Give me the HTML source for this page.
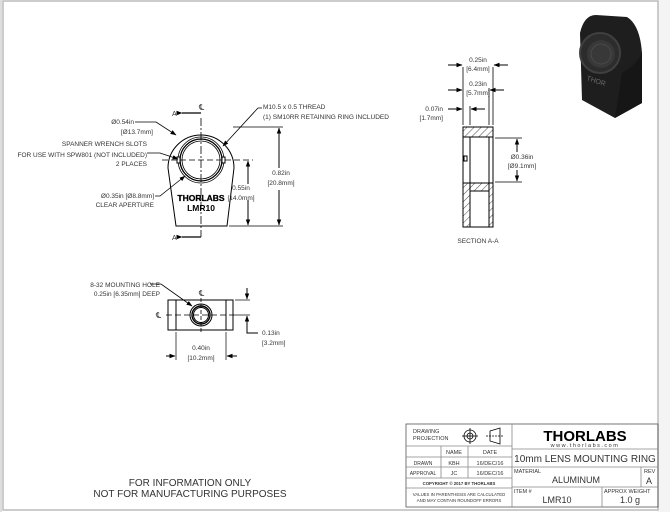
<!DOCTYPE html>
<html><head><style>
html,body{margin:0;padding:0;background:#fff;}
svg{display:block;}
text{font-family:"Liberation Sans",sans-serif;fill:#333;}
</style></head><body>
<svg width="670" height="512" viewBox="0 0 670 512" xmlns="http://www.w3.org/2000/svg">
<defs>
<marker id="ar" markerWidth="6" markerHeight="6" refX="5.5" refY="3" orient="auto" markerUnits="userSpaceOnUse"><path d="M0,0.8 L6,3 L0,5.2z" fill="#000"/></marker>
<pattern id="h" width="5" height="5" patternUnits="userSpaceOnUse" patternTransform="rotate(45)"><line x1="0" y1="0" x2="0" y2="5" stroke="#000" stroke-width="0.7"/></pattern>
</defs>
<rect x="0" y="0" width="670" height="512" fill="#fff"/>
<rect x="658" y="0" width="12" height="512" fill="#f4f4f4"/>
<rect x="3" y="1" width="655" height="509" fill="none" stroke="#bbb" stroke-width="1.5"/>
<line x1="1" y1="0" x2="1" y2="512" stroke="#ddd" stroke-width="2"/>

<!-- photo -->
<g>
<path d="M580,33 Q584,15 596,15 L627,17 Q640,25 642,53 L642,103 L615,118 L582,100 Z" fill="#1e1e1e"/>
<path d="M622,73 Q636,65 642,53 L642,103 L615,118 Z" fill="#161616"/>
<circle cx="600" cy="53" r="20" fill="#2c2c2c" stroke="#404040" stroke-width="2"/>
<circle cx="601" cy="54" r="14" fill="#383838"/>
<circle cx="601" cy="54" r="10" fill="none" stroke="#4a4a4a" stroke-width="1"/>
<text x="586" y="80" font-size="7" transform="rotate(18 586 80)" style="fill:#6a6a6a">THOR</text>
</g>

<!-- front view -->
<g stroke="#000" fill="none" stroke-width="1">
<path d="M168,168 A33,33 0 1,1 234,168 L227,226 L176,226 Z" fill="#fff"/>
<circle cx="201" cy="160" r="23" stroke-width="0.8"/>
<circle cx="201" cy="160" r="21" stroke-width="1.3"/>
<circle cx="201" cy="160" r="19" stroke-width="0.8"/>
<rect x="177" y="157" width="3" height="6" fill="#fff"/>
<rect x="222" y="157" width="3" height="6" fill="#fff"/>
<line x1="162" y1="160" x2="253" y2="160" stroke-dasharray="6,3" stroke-width="0.8"/>
<line x1="201" y1="118" x2="201" y2="237" stroke-dasharray="8,2,2,2" stroke-width="0.8"/>
<line x1="182" y1="113" x2="201" y2="113" marker-start="url(#ar)" stroke-width="1.2"/>
<line x1="182" y1="237" x2="201" y2="237" marker-start="url(#ar)" stroke-width="1.2"/>
<line x1="233" y1="127" x2="283" y2="127" stroke-width="0.7"/>
<line x1="229" y1="226" x2="283" y2="226" stroke-width="0.7"/>
<line x1="279" y1="140" x2="279" y2="128" marker-end="url(#ar)"/>
<line x1="279" y1="190" x2="279" y2="225" marker-end="url(#ar)"/>
<line x1="279" y1="168" x2="279" y2="140"/>
<line x1="248" y1="184" x2="248" y2="161" marker-end="url(#ar)"/>
<line x1="248" y1="200" x2="248" y2="225" marker-end="url(#ar)"/>
<polyline points="262,108 258,108 223,146" marker-end="url(#ar)" stroke-width="0.8"/>
<polyline points="135,122 156,122 176,135" marker-end="url(#ar)" stroke-width="0.8"/>
<polyline points="147,153 160,153 178,159" marker-end="url(#ar)" stroke-width="0.8"/>
<polyline points="155,196 160,196 185,176" marker-end="url(#ar)" stroke-width="0.8"/>
</g>
<g font-size="6.5">
<text x="199" y="110" font-size="8">℄</text>
<text x="172" y="116" font-size="7">A</text>
<text x="172" y="240" font-size="7">A</text>
<text x="263" y="109">M10.5 x 0.5 THREAD</text>
<text x="263" y="119">(1) SM10RR RETAINING RING INCLUDED</text>
<text x="134" y="124" text-anchor="end">Ø0.54in</text>
<text x="153" y="134" text-anchor="end">[Ø13.7mm]</text>
<text x="147" y="146" text-anchor="end">SPANNER WRENCH SLOTS</text>
<text x="147" y="157" text-anchor="end">FOR USE WITH SPW801 (NOT INCLUDED)</text>
<text x="147" y="166" text-anchor="end">2 PLACES</text>
<text x="154" y="198" text-anchor="end">Ø0.35in [Ø8.8mm]</text>
<text x="154" y="207" text-anchor="end">CLEAR APERTURE</text>
<text x="241" y="190" text-anchor="middle">0.55in</text>
<text x="241" y="200" text-anchor="middle">[14.0mm]</text>
<text x="281" y="175" text-anchor="middle">0.82in</text>
<text x="281" y="185" text-anchor="middle">[20.8mm]</text>
</g>
<text x="201" y="201" text-anchor="middle" font-size="8.5" font-weight="bold" style="fill:#000;stroke:#000;stroke-width:0.3">THORLABS</text>
<text x="201" y="211" text-anchor="middle" font-size="8.5" font-weight="bold" style="fill:#000">LMR10</text>

<!-- bottom view -->
<g stroke="#000" fill="none" stroke-width="1">
<rect x="168" y="300" width="65" height="30"/>
<line x1="176" y1="300" x2="176" y2="330"/>
<line x1="226" y1="300" x2="226" y2="330"/>
<circle cx="201" cy="315" r="11"/>
<circle cx="201" cy="315" r="9" stroke-width="1.4"/>
<circle cx="201" cy="315" r="7.5"/>
<line x1="166" y1="315" x2="236" y2="315" stroke-dasharray="6,3" stroke-width="0.8"/>
<line x1="201" y1="298" x2="201" y2="332" stroke-dasharray="4,2" stroke-width="0.8"/>
<polyline points="150,284 161,284 192,306" marker-end="url(#ar)" stroke-width="0.8"/>
<line x1="176" y1="332" x2="176" y2="360" stroke-width="0.7"/>
<line x1="226" y1="332" x2="226" y2="360" stroke-width="0.7"/>
<line x1="166" y1="356" x2="175" y2="356" marker-end="url(#ar)"/>
<line x1="237" y1="356" x2="227" y2="356" marker-end="url(#ar)"/>
<line x1="235" y1="300" x2="250" y2="300" stroke-width="0.7"/>
<line x1="235" y1="315" x2="250" y2="315" stroke-width="0.7"/>
<line x1="247" y1="288" x2="247" y2="299" marker-end="url(#ar)"/>
<polyline points="258,333 247,333 247,316" marker-end="url(#ar)"/>
</g>
<g font-size="6.5">
<text x="160" y="287" text-anchor="end">8-32 MOUNTING HOLE</text>
<text x="160" y="296" text-anchor="end">0.25in [6.35mm] DEEP</text>
<text x="199" y="296" font-size="8">℄</text>
<text x="156" y="318" font-size="8">℄</text>
<text x="201" y="350" text-anchor="middle">0.40in</text>
<text x="201" y="360" text-anchor="middle">[10.2mm]</text>
<text x="262" y="335">0.13in</text>
<text x="262" y="345">[3.2mm]</text>
</g>

<!-- section -->
<g stroke="#000" fill="none" stroke-width="1">
<rect x="463" y="127" width="30" height="10" fill="url(#h)"/>
<rect x="463" y="183" width="7" height="44" fill="url(#h)"/>
<rect x="489" y="183" width="4" height="44" fill="url(#h)"/>
<rect x="470" y="183" width="19" height="8" fill="url(#h)"/>
<rect x="463" y="127" width="30" height="100"/>
<line x1="470" y1="137" x2="470" y2="183"/>
<line x1="489" y1="137" x2="489" y2="183"/>
<line x1="463" y1="137" x2="493" y2="137"/>
<line x1="463" y1="183" x2="493" y2="183"/>
<line x1="470" y1="191" x2="489" y2="191"/>
<rect x="464" y="156" width="3" height="5"/>
<line x1="463" y1="67" x2="463" y2="125" stroke-width="0.8"/>
<line x1="493" y1="67" x2="493" y2="125" stroke-width="0.8"/>
<line x1="489" y1="88" x2="489" y2="125" stroke-width="0.8"/>
<line x1="470" y1="106" x2="470" y2="125" stroke-width="0.8"/>
<line x1="448" y1="65" x2="462" y2="65" marker-end="url(#ar)"/>
<line x1="508" y1="65" x2="494" y2="65" marker-end="url(#ar)"/>
<line x1="448" y1="90" x2="462" y2="90" marker-end="url(#ar)"/>
<line x1="504" y1="90" x2="490" y2="90" marker-end="url(#ar)"/>
<line x1="448" y1="109" x2="462" y2="109" marker-end="url(#ar)"/>
<line x1="485" y1="109" x2="471" y2="109" marker-end="url(#ar)"/>
<line x1="495" y1="138" x2="522" y2="138" stroke-width="0.7"/>
<line x1="495" y1="182" x2="522" y2="182" stroke-width="0.7"/>
<line x1="517" y1="152" x2="517" y2="139" marker-end="url(#ar)"/>
<line x1="517" y1="170" x2="517" y2="181" marker-end="url(#ar)"/>
</g>
<g font-size="6.5">
<text x="478" y="62" text-anchor="middle">0.25in</text>
<text x="478" y="71" text-anchor="middle">[6.4mm]</text>
<text x="478" y="86" text-anchor="middle">0.23in</text>
<text x="478" y="95" text-anchor="middle">[5.7mm]</text>
<text x="443" y="111" text-anchor="end">0.07in</text>
<text x="443" y="120" text-anchor="end">[1.7mm]</text>
<text x="522" y="159" text-anchor="middle">Ø0.36in</text>
<text x="522" y="168" text-anchor="middle">[Ø9.1mm]</text>
<text x="478" y="243" text-anchor="middle">SECTION A-A</text>
</g>

<!-- notes -->
<text x="190" y="486" text-anchor="middle" font-size="10">FOR INFORMATION ONLY</text>
<text x="190" y="497" text-anchor="middle" font-size="10">NOT FOR MANUFACTURING PURPOSES</text>

<!-- title block -->
<g stroke="#888" fill="none" stroke-width="0.8">
<rect x="406" y="424" width="252" height="83" stroke="#555"/>
<line x1="512" y1="424" x2="512" y2="507"/>
<line x1="406" y1="446" x2="512" y2="446"/>
<line x1="406" y1="457" x2="512" y2="457"/>
<line x1="406" y1="467" x2="512" y2="467"/>
<line x1="406" y1="478" x2="512" y2="478"/>
<line x1="406" y1="488" x2="512" y2="488"/>
<line x1="441" y1="446" x2="441" y2="478"/>
<line x1="468" y1="446" x2="468" y2="478"/>
<line x1="512" y1="449" x2="658" y2="449"/>
<line x1="512" y1="467" x2="658" y2="467"/>
<line x1="512" y1="487" x2="658" y2="487"/>
<line x1="641" y1="467" x2="641" y2="487"/>
<line x1="602" y1="487" x2="602" y2="507"/>
</g>
<g stroke="#000" fill="none" stroke-width="0.8">
<circle cx="470" cy="436" r="6"/><circle cx="470" cy="436" r="3"/>
<line x1="462" y1="436" x2="478" y2="436"/><line x1="470" y1="428" x2="470" y2="444"/>
<path d="M490,431 L500,428 L500,444 L490,441 Z"/>
<line x1="486" y1="436" x2="504" y2="436" stroke-dasharray="2,1"/>
</g>
<g font-size="5.5">
<text x="413" y="433">DRAWING</text>
<text x="413" y="440">PROJECTION</text>
<text x="454" y="454" text-anchor="middle">NAME</text>
<text x="490" y="454" text-anchor="middle">DATE</text>
<text x="423" y="465" text-anchor="middle" font-size="5">DRAWN</text>
<text x="454" y="465" text-anchor="middle">KBH</text>
<text x="490" y="465" text-anchor="middle">16/DEC/16</text>
<text x="423" y="475" text-anchor="middle" font-size="5">APPROVAL</text>
<text x="454" y="475" text-anchor="middle">JC</text>
<text x="490" y="475" text-anchor="middle">16/DEC/16</text>
<text x="459" y="485" text-anchor="middle" font-size="4.3" font-weight="bold">COPYRIGHT © 2017 BY THORLABS</text>
<text x="459" y="496" text-anchor="middle" font-size="4.3">VALUES IN PARENTHESIS ARE CALCULATED</text>
<text x="459" y="502" text-anchor="middle" font-size="4.3">AND MAY CONTAIN ROUNDOFF ERRORS</text>
<text x="514" y="473" font-size="5.5">MATERIAL</text>
<text x="644" y="473" font-size="5.5">REV</text>
<text x="514" y="493" font-size="5.5">ITEM #</text>
<text x="604" y="493" font-size="5.5">APPROX WEIGHT</text>
</g>
<text x="585" y="441" text-anchor="middle" font-size="15" font-weight="bold" style="fill:#000">THORLABS</text>
<text x="585" y="447" text-anchor="middle" font-size="5.5" letter-spacing="1.5">www.thorlabs.com</text>
<text x="585" y="462" text-anchor="middle" font-size="10">10mm LENS MOUNTING RING</text>
<text x="576" y="483" text-anchor="middle" font-size="9">ALUMINUM</text>
<text x="649" y="484" text-anchor="middle" font-size="9">A</text>
<text x="557" y="503" text-anchor="middle" font-size="9">LMR10</text>
<text x="630" y="503" text-anchor="middle" font-size="9">1.0 g</text>
</svg>
</body></html>
